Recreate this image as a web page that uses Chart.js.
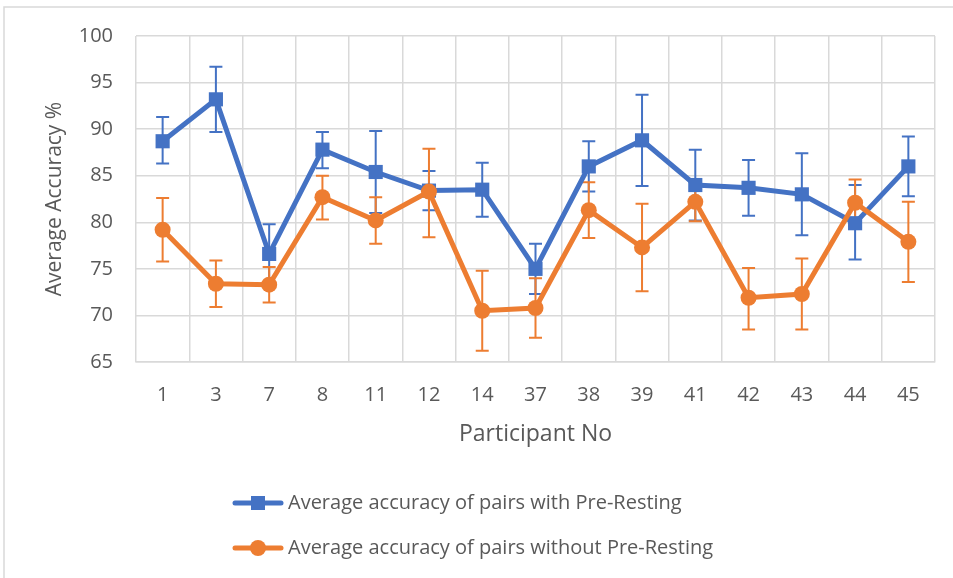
<!DOCTYPE html>
<html lang="en">
<head>
    <meta charset="UTF-8">
    <title>Average Accuracy</title>
    <script src="https://cdn.jsdelivr.net/npm/chart.js"></script>
    <style>
        html, body { margin: 0; padding: 0; background: #fff; }
        #wrap { position: relative; width: 953px; height: 578px; }
    </style>
</head>
<body>
    <div id="wrap">
        <canvas id="myChart" width="953" height="578"></canvas>
    </div>
    <script>
        const participants = ['1', '3', '7', '8', '11', '12', '14', '37', '38', '39', '41', '42', '43', '44', '45'];

        const withRest = [88.7, 93.2, 76.6, 87.8, 85.4, 83.4, 83.5, 75.0, 86.0, 88.8, 84.0, 83.7, 83.0, 79.9, 86.0];
        const withRestHigh = [91.3, 96.7, 79.8, 89.7, 89.8, 85.5, 86.4, 77.7, 88.7, 93.7, 87.8, 86.7, 87.4, 84.0, 89.2];
        const withRestLow = [86.3, 89.7, 73.4, 85.8, 81.0, 81.3, 80.6, 72.3, 83.3, 83.9, 80.2, 80.7, 78.6, 76.0, 82.8];

        const withoutRest = [79.2, 73.4, 73.3, 82.7, 80.2, 83.3, 70.5, 70.8, 81.3, 77.3, 82.2, 71.9, 72.3, 82.1, 77.9];
        const withoutRestHigh = [82.6, 75.9, 75.2, 85.0, 82.7, 87.9, 74.8, 74.0, 84.3, 82.0, 84.3, 75.1, 76.1, 84.6, 82.2];
        const withoutRestLow = [75.8, 70.9, 71.4, 80.3, 77.7, 78.4, 66.2, 67.6, 78.3, 72.6, 80.1, 68.5, 68.5, 79.6, 73.6];

        const seriesNames = ['Average accuracy of pairs with Pre-Resting', 'Average accuracy of pairs without Pre-Resting'];

        const blue = '#4472C4';
        const orange = '#ED7D31';
        const textColor = '#595959';
        const gridColor = '#d9d9d9';
        const fontFamily = "'Open Sans', 'Noto Sans', sans-serif";

        // error bars drawn from the high/low arrays through the scales
        const errorBars = {
            id: 'errorBars',
            beforeDatasetsDraw(chart) {
                const ctx = chart.ctx;
                const x = chart.scales.x;
                const y = chart.scales.y;
                const sets = [
                    { hi: withRestHigh, lo: withRestLow, color: blue },
                    { hi: withoutRestHigh, lo: withoutRestLow, color: orange }
                ];
                ctx.save();
                ctx.lineWidth = 2;
                sets.forEach((s) => {
                    ctx.strokeStyle = s.color;
                    participants.forEach((p, i) => {
                        const px = x.getPixelForValue(i);
                        const top = y.getPixelForValue(s.hi[i]);
                        const bot = y.getPixelForValue(s.lo[i]);
                        ctx.beginPath();
                        ctx.moveTo(px, top);
                        ctx.lineTo(px, bot);
                        ctx.moveTo(px - 6.5, top);
                        ctx.lineTo(px + 6.5, top);
                        ctx.moveTo(px - 6.5, bot);
                        ctx.lineTo(px + 6.5, bot);
                        ctx.stroke();
                    });
                });
                ctx.restore();
            }
        };

        // outer frame and legend in the bottom block
        const frameAndLegend = {
            id: 'frameAndLegend',
            afterDraw(chart) {
                const ctx = chart.ctx;
                ctx.save();
                ctx.strokeStyle = gridColor;
                ctx.lineWidth = 1.5;
                ctx.beginPath();
                ctx.moveTo(4, 578);
                ctx.lineTo(4, 7);
                ctx.lineTo(953, 7);
                ctx.stroke();

                const rows = [
                    { y: 503, color: blue, shape: 'rect' },
                    { y: 548, color: orange, shape: 'circle' }
                ];
                rows.forEach((r, i) => {
                    ctx.strokeStyle = r.color;
                    ctx.fillStyle = r.color;
                    ctx.lineWidth = 5;
                    ctx.lineCap = 'round';
                    ctx.beginPath();
                    ctx.moveTo(235, r.y);
                    ctx.lineTo(281, r.y);
                    ctx.stroke();
                    ctx.beginPath();
                    if (r.shape === 'rect') {
                        ctx.rect(251, r.y - 7, 14, 14);
                    } else {
                        ctx.arc(258, r.y, 8, 0, Math.PI * 2);
                    }
                    ctx.fill();
                    ctx.fillStyle = textColor;
                    ctx.font = '20px ' + fontFamily;
                    ctx.textBaseline = 'middle';
                    ctx.textAlign = 'left';
                    ctx.fillText(seriesNames[i], 288, r.y);
                });
                ctx.restore();
            }
        };

        const ctx = document.getElementById('myChart').getContext('2d');
        const myChart = new Chart(ctx, {
            type: 'line',
            data: {
                labels: participants,
                datasets: [{
                    label: seriesNames[0],
                    data: withRest,
                    borderColor: blue,
                    backgroundColor: blue,
                    borderWidth: 5,
                    pointStyle: 'rect',
                    pointRadius: 10,
                    pointBorderWidth: 0,
                    tension: 0,
                    order: 1
                }, {
                    label: seriesNames[1],
                    data: withoutRest,
                    borderColor: orange,
                    backgroundColor: orange,
                    borderWidth: 5,
                    pointStyle: 'circle',
                    pointRadius: 8,
                    pointBorderWidth: 0,
                    tension: 0,
                    order: 0
                }]
            },
            options: {
                responsive: false,
                animation: false,
                layout: { padding: { left: 0, top: 36, right: 18, bottom: 130 } },
                plugins: {
                    legend: { display: false },
                    tooltip: { enabled: false }
                },
                scales: {
                    x: {
                        offset: true,
                        grid: { offset: true, color: gridColor, lineWidth: 1.5, drawTicks: false },
                        border: { color: gridColor, width: 1.5 },
                        ticks: { color: textColor, font: { family: fontFamily, size: 20 }, padding: 21, maxRotation: 0 },
                        title: { display: true, text: 'Participant No', color: textColor, font: { family: fontFamily, size: 23 }, padding: 0 },
                        afterFit(scale) { scale.height = 86; }
                    },
                    y: {
                        min: 65,
                        max: 100,
                        ticks: { stepSize: 5, color: textColor, font: { family: fontFamily, size: 20 }, padding: 23 },
                        grid: { color: gridColor, lineWidth: 1.5, drawTicks: false },
                        border: { display: false },
                        title: { display: true, text: 'Average Accuracy %', color: textColor, font: { family: fontFamily, size: 21 }, padding: { top: 42 } },
                        afterFit(scale) { scale.width = 136; }
                    }
                }
            },
            plugins: [errorBars, frameAndLegend]
        });
    </script>
</body>
</html>
